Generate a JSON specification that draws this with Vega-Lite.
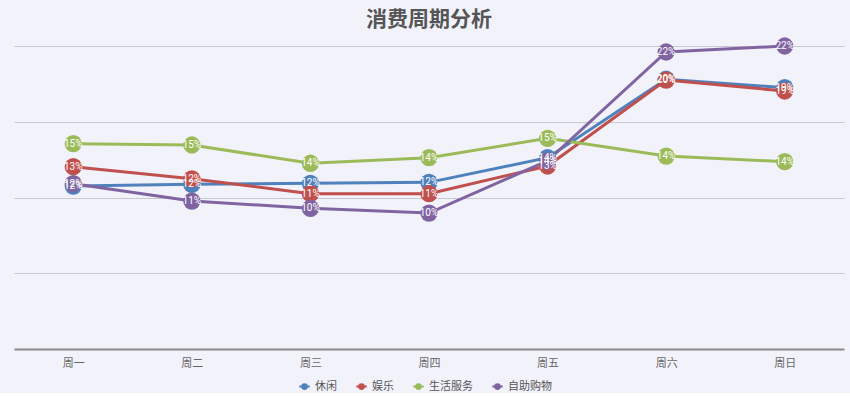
{
  "$schema": "https://vega.github.io/schema/vega-lite/v6.json",
  "width": 830,
  "height": 303,
  "padding": {"left": 14, "right": 6, "top": 9, "bottom": 0},
  "background": "#f2f2fb",
  "title": {
    "text": "消费周期分析",
    "fontSize": 21,
    "font": "Noto Sans CJK SC",
    "fontWeight": "bold",
    "color": "#555555",
    "anchor": "middle",
    "offset": 7
  },
  "config": {
    "view": {"stroke": null},
    "font": "Noto Sans CJK SC"
  },
  "data": {
    "values": [
      {"day": "周一", "series": "休闲", "value": 0.1195},
      {"day": "周二", "series": "休闲", "value": 0.1208},
      {"day": "周三", "series": "休闲", "value": 0.1215},
      {"day": "周四", "series": "休闲", "value": 0.1222},
      {"day": "周五", "series": "休闲", "value": 0.1403},
      {"day": "周六", "series": "休闲", "value": 0.1978},
      {"day": "周日", "series": "休闲", "value": 0.1916},
      {"day": "周一", "series": "娱乐", "value": 0.1337},
      {"day": "周二", "series": "娱乐", "value": 0.1248},
      {"day": "周三", "series": "娱乐", "value": 0.1139},
      {"day": "周四", "series": "娱乐", "value": 0.1139},
      {"day": "周五", "series": "娱乐", "value": 0.1342},
      {"day": "周六", "series": "娱乐", "value": 0.1972},
      {"day": "周日", "series": "娱乐", "value": 0.1892},
      {"day": "周一", "series": "生活服务", "value": 0.1506},
      {"day": "周二", "series": "生活服务", "value": 0.1496},
      {"day": "周三", "series": "生活服务", "value": 0.1362},
      {"day": "周四", "series": "生活服务", "value": 0.1403},
      {"day": "周五", "series": "生活服务", "value": 0.1545},
      {"day": "周六", "series": "生活服务", "value": 0.1415},
      {"day": "周日", "series": "生活服务", "value": 0.1374},
      {"day": "周一", "series": "自助购物", "value": 0.1212},
      {"day": "周二", "series": "自助购物", "value": 0.1085},
      {"day": "周三", "series": "自助购物", "value": 0.1032},
      {"day": "周四", "series": "自助购物", "value": 0.0997},
      {"day": "周五", "series": "自助购物", "value": 0.138},
      {"day": "周六", "series": "自助购物", "value": 0.2178},
      {"day": "周日", "series": "自助购物", "value": 0.2222}
    ]
  },
  "encoding": {
    "x": {
      "field": "day",
      "type": "nominal",
      "sort": ["周一", "周二", "周三", "周四", "周五", "周六", "周日"],
      "scale": {"type": "point", "padding": 0.5},
      "axis": {
        "title": null,
        "labelAngle": 0,
        "labelColor": "#666666",
        "labelFontSize": 11,
        "labelPadding": 8,
        "ticks": false,
        "domainColor": "#8a8a8a",
        "domainWidth": 2,
        "grid": false
      }
    },
    "y": {
      "field": "value",
      "type": "quantitative",
      "scale": {"domain": [0, 0.2222], "nice": false, "zero": true},
      "axis": {
        "title": null,
        "labels": false,
        "ticks": false,
        "domain": false,
        "values": [0.0556, 0.1111, 0.1667, 0.2222],
        "gridColor": "#c8c8d0",
        "gridWidth": 1.2
      }
    },
    "color": {
      "field": "series",
      "type": "nominal",
      "scale": {
        "domain": ["休闲", "娱乐", "生活服务", "自助购物"],
        "range": ["#4f81bd", "#c0504d", "#9bbb59", "#8064a2"]
      },
      "legend": {
        "title": null,
        "orient": "none",
        "legendX": 284,
        "legendY": 334,
        "direction": "horizontal",
        "labelFontSize": 11,
        "labelColor": "#555555",
        "symbolType": "M-1,0L1,0M-0.45,0A0.45,0.45 0 1,1 0.45,0A0.45,0.45 0 1,1 -0.45,0",
        "symbolSize": 110,
        "symbolStrokeWidth": 2,
        "columnPadding": 15
      }
    }
  },
  "layer": [
    {
      "mark": {"type": "line", "strokeWidth": 3, "clip": false}
    },
    {
      "mark": {"type": "point", "shape": "circle", "filled": true, "size": 300, "opacity": 1, "clip": false}
    },
    {
      "mark": {"type": "text", "color": "white", "fontSize": 10, "font": "Roboto", "clip": false},
      "encoding": {
        "text": {"field": "value", "type": "quantitative", "format": ".0%"},
        "color": {"value": "white"}
      }
    }
  ]
}
